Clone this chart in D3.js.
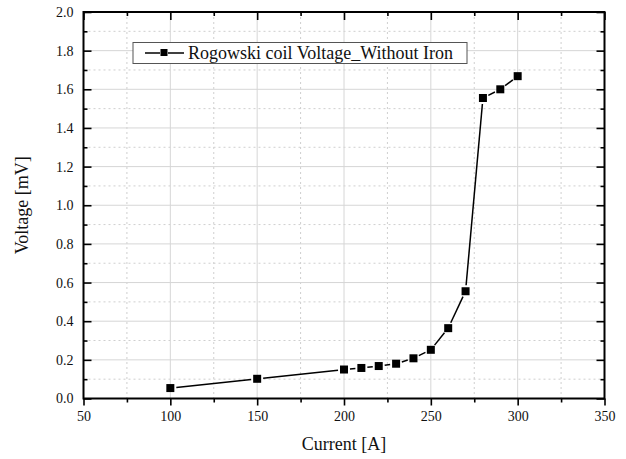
<!DOCTYPE html>
<html>
<head>
<meta charset="utf-8">
<script src="https://cdn.jsdelivr.net/npm/d3@7"></script>
<style>
  html, body { margin: 0; padding: 0; background: #fff; }
  svg { display: block; }
</style>
</head>
<body>
<svg id="chart" width="626" height="459"></svg>
<script>
// Measured coil output versus primary current
const currents = [100, 150, 200, 210, 220, 230, 240, 250, 260, 270, 280, 290, 300];
const voltages = [0.054, 0.102, 0.15, 0.158, 0.168, 0.18, 0.208, 0.252, 0.364, 0.555, 1.555, 1.60, 1.668];
const xTicks = [50, 100, 150, 200, 250, 300, 350];
const yTicks = [0.0, 0.2, 0.4, 0.6, 0.8, 1.0, 1.2, 1.4, 1.6, 1.8, 2.0];
const seriesName = "Rogowski coil Voltage_Without Iron";
const xTitle = "Current [A]";
const yTitle = "Voltage [mV]";

const FONT = "Liberation Serif, Times New Roman, serif";
const svg = d3.select("#chart");
const pLeft = 83.5, pRight = 604.5, pTop = 12, pBottom = 398.5;

const x = d3.scaleLinear().domain([50, 350]).range([pLeft, pRight]);
const y = d3.scaleLinear().domain([0, 2]).range([pBottom, pTop]);

const xMinor = d3.range(75, 350, 50);
const yMinor = d3.range(0.1, 2.0, 0.2);

// grid: dotted minor lines, solid light major lines
const grid = svg.append("g");
grid.selectAll(".gxm").data(xMinor).join("line")
  .attr("x1", d => x(d)).attr("x2", d => x(d)).attr("y1", pTop).attr("y2", pBottom)
  .attr("stroke", "#cfcfcf").attr("stroke-width", 1).attr("stroke-dasharray", "2,3");
grid.selectAll(".gym").data(yMinor).join("line")
  .attr("x1", pLeft).attr("x2", pRight).attr("y1", d => y(d)).attr("y2", d => y(d))
  .attr("stroke", "#cfcfcf").attr("stroke-width", 1).attr("stroke-dasharray", "2,3");
grid.selectAll(".gx").data(xTicks.slice(1, -1)).join("line")
  .attr("x1", d => x(d)).attr("x2", d => x(d)).attr("y1", pTop).attr("y2", pBottom)
  .attr("stroke", "#d6d6d6").attr("stroke-width", 1);
grid.selectAll(".gy").data(yTicks.slice(1, -1)).join("line")
  .attr("x1", pLeft).attr("x2", pRight).attr("y1", d => y(d)).attr("y2", d => y(d))
  .attr("stroke", "#d6d6d6").attr("stroke-width", 1);

// axes
const fmtY = d3.format(".1f");
const axBottom = d3.axisBottom(x).tickValues(xTicks).tickSize(7).tickPadding(6).tickFormat(d3.format("d"));
const axBottomMinor = d3.axisBottom(x).tickValues(xMinor).tickSize(4).tickFormat("");
const axTop = d3.axisTop(x).tickValues(xTicks).tickSize(-8).tickFormat("");
const axTopMinor = d3.axisTop(x).tickValues(xMinor).tickSize(-4).tickFormat("");
const axLeft = d3.axisLeft(y).tickValues(yTicks).tickSize(-8).tickPadding(10).tickFormat(fmtY);
const axLeftMinor = d3.axisLeft(y).tickValues(yMinor).tickSize(-4).tickFormat("");
const axRight = d3.axisRight(y).tickValues(yTicks).tickSize(-8).tickFormat("");
const axRightMinor = d3.axisRight(y).tickValues(yMinor).tickSize(-4).tickFormat("");

function styleAxis(g) {
  g.attr("font-family", FONT).attr("font-size", 14);
  g.select(".domain").remove();
  g.selectAll(".tick line").attr("stroke", "#000").attr("stroke-width", 1.6);
  g.selectAll(".tick text").attr("fill", "#111");
}

svg.append("g").attr("transform", `translate(0,${pBottom})`).call(axBottom).call(styleAxis);
svg.append("g").attr("transform", `translate(0,${pBottom})`).call(axBottomMinor).call(styleAxis);
svg.append("g").attr("transform", `translate(0,${pTop})`).call(axTop).call(styleAxis);
svg.append("g").attr("transform", `translate(0,${pTop})`).call(axTopMinor).call(styleAxis);
svg.append("g").attr("transform", `translate(${pLeft},0)`).call(axLeft).call(styleAxis);
svg.append("g").attr("transform", `translate(${pLeft},0)`).call(axLeftMinor).call(styleAxis);
svg.append("g").attr("transform", `translate(${pRight},0)`).call(axRight).call(styleAxis);
svg.append("g").attr("transform", `translate(${pRight},0)`).call(axRightMinor).call(styleAxis);

// frame
svg.append("rect").attr("x", pLeft).attr("y", pTop)
  .attr("width", pRight - pLeft).attr("height", pBottom - pTop)
  .attr("fill", "none").attr("stroke", "#000").attr("stroke-width", 2);

// series: segments leave a small gap around each marker
const pts = currents.map((c, i) => [x(c), y(voltages[i])]);
const gap = 6;
const segs = d3.pairs(pts).map(([a, b]) => {
  const dx = b[0] - a[0], dy = b[1] - a[1];
  const len = Math.hypot(dx, dy);
  const ux = dx / len, uy = dy / len;
  return [a[0] + ux * gap, a[1] + uy * gap, b[0] - ux * gap, b[1] - uy * gap];
});
svg.append("g").selectAll("line").data(segs).join("line")
  .attr("x1", d => d[0]).attr("y1", d => d[1]).attr("x2", d => d[2]).attr("y2", d => d[3])
  .attr("stroke", "#000").attr("stroke-width", 1.5);

const ms = 8;
svg.append("g").selectAll("rect").data(pts).join("rect")
  .attr("x", d => d[0] - ms / 2).attr("y", d => d[1] - ms / 2)
  .attr("width", ms).attr("height", ms).attr("fill", "#000");

// legend
const lg = svg.append("g");
lg.append("rect").attr("x", 133).attr("y", 42.5).attr("width", 334).attr("height", 21)
  .attr("fill", "#fff").attr("stroke", "#555").attr("stroke-width", 1);
lg.append("line").attr("x1", 145).attr("x2", 160).attr("y1", 53).attr("y2", 53)
  .attr("stroke", "#000").attr("stroke-width", 1.5);
lg.append("line").attr("x1", 168).attr("x2", 184).attr("y1", 53).attr("y2", 53)
  .attr("stroke", "#000").attr("stroke-width", 1.5);
lg.append("rect").attr("x", 160.5).attr("y", 49).attr("width", 7).attr("height", 7).attr("fill", "#000");
lg.append("text").attr("x", 188).attr("y", 59).text(seriesName)
  .attr("font-family", FONT).attr("font-size", 18).attr("fill", "#111");

// titles
svg.append("text").attr("x", (pLeft + pRight) / 2).attr("y", 450).attr("text-anchor", "middle")
  .attr("font-family", FONT).attr("font-size", 18).attr("fill", "#111").text(xTitle);
svg.append("text").attr("transform", `translate(28,${(pTop + pBottom) / 2}) rotate(-90)`)
  .attr("text-anchor", "middle").attr("font-family", FONT).attr("font-size", 18)
  .attr("fill", "#111").text(yTitle);
</script>
</body>
</html>
